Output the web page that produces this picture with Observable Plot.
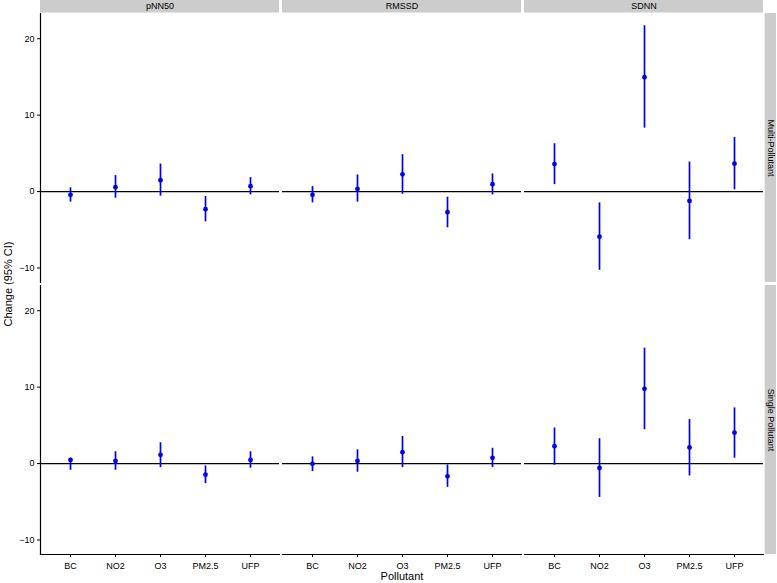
<!DOCTYPE html>
<html>
<head>
<meta charset="utf-8">
<script src="https://cdn.jsdelivr.net/npm/d3@7"></script>
<script src="https://cdn.jsdelivr.net/npm/@observablehq/plot@0.6"></script>
<style>
  body { margin: 0; background: #fff; }
  #chart svg g[aria-label="y-axis label"] text,
  #chart svg g[aria-label="x-axis label"] text { font-size: 11px; }
</style>
</head>
<body>
<div id="chart"></div>
<script>
const metrics = ['pNN50', 'RMSSD', 'SDNN']
const models = ['Multi-Pollutant', 'Single Pollutant']
const pollutants = ['BC', 'NO2', 'O3', 'PM2.5', 'UFP']
const yTicks = [-10, 0, 10, 20]

// [estimate, lower, upper] per pollutant, in the order of `pollutants`
const multiPNN50 = [[-0.43, -1.39, 0.48], [0.57, -0.87, 2.09], [1.48, -0.6, 3.6], [-2.3, -3.96, -0.65], [0.7, -0.43, 1.83]]
const multiRMSSD = [[-0.43, -1.48, 0.65], [0.35, -1.39, 2.17], [2.26, -0.35, 4.83], [-2.7, -4.74, -0.74], [0.96, -0.43, 2.3]]
const multiSDNN = [[3.6, 0.91, 6.26], [-5.9, -10.3, -1.48], [14.96, 8.3, 21.7], [-1.22, -6.3, 3.87], [3.65, 0.22, 7.09]]
const singlePNN50 = [[0.48, -0.88, 0.7], [0.35, -0.88, 1.54], [1.14, -0.53, 2.72], [-1.45, -2.63, -0.31], [0.48, -0.61, 1.54]]
const singleRMSSD = [[-0.04, -1.05, 0.88], [0.35, -1.14, 1.8], [1.49, -0.53, 3.55], [-1.67, -3.11, -0.18], [0.75, -0.53, 2.0]]
const singleSDNN = [[2.28, -0.22, 4.65], [-0.57, -4.43, 3.25], [9.78, 4.43, 15.1], [2.1, -1.62, 5.75], [4.04, 0.7, 7.28]]

const panels = [
  [models[0], metrics[0], multiPNN50], [models[0], metrics[1], multiRMSSD], [models[0], metrics[2], multiSDNN],
  [models[1], metrics[0], singlePNN50], [models[1], metrics[1], singleRMSSD], [models[1], metrics[2], singleSDNN],
]
const rows = panels.flatMap(([model, metric, vals]) =>
  vals.map(([est, lo, hi], i) => ({model, metric, pollutant: pollutants[i], est, lo, hi})))

const topStrips = metrics.map(metric => ({metric, model: models[0]}))
const rightStrips = models.map(model => ({metric: metrics[2], model}))

// layout
const W = 777, H = 583
const mL = 39, mR = 13, mT = 13, mB = 28
const strip = 13, gap = 3
const panelW = (W - mL - mR - 2 * gap) / 3
const panelH = (H - mT - mB - gap) / 2
const blue = '#0000ee'

let chart = Plot.plot({
  width: W,
  height: H,
  marginLeft: mL, marginRight: mR, marginTop: mT, marginBottom: mB,
  style: {fontFamily: '"Liberation Sans", Arial, sans-serif', fontSize: '9px', color: '#000', background: '#fff'},
  fx: {domain: metrics, axis: null, paddingInner: gap / (panelW + gap), paddingOuter: 0},
  fy: {domain: models, axis: null, paddingInner: gap / (panelH + gap), paddingOuter: 0},
  x: {type: 'point', domain: pollutants, padding: 0.6},
  y: {domain: [-11.9, 23.3]},
  marks: [
    // strips
    Plot.rect(topStrips, {fx: 'metric', fy: 'model', fill: '#cccccc', insetTop: -strip, insetBottom: panelH}),
    Plot.text(topStrips, {fx: 'metric', fy: 'model', text: 'metric', frameAnchor: 'top', dy: -strip / 2 - 0.5, lineAnchor: 'middle', textAnchor: 'middle', fontSize: 9}),
    Plot.rect(rightStrips, {fx: 'metric', fy: 'model', fill: '#cccccc', insetLeft: panelW + 1, insetRight: -strip}),
    Plot.text(rightStrips, {fx: 'metric', fy: 'model', text: 'model', frameAnchor: 'right', dx: strip / 2 + 0.5, rotate: 90, lineAnchor: 'middle', textAnchor: 'middle', fontSize: 9}),

    Plot.ruleY([0], {stroke: '#000', strokeWidth: 1.3}),
    Plot.ruleX(rows, {fx: 'metric', fy: 'model', x: 'pollutant', y1: 'lo', y2: 'hi', stroke: blue, strokeWidth: 1.7}),
    Plot.dot(rows, {fx: 'metric', fy: 'model', x: 'pollutant', y: 'est', r: 2.4, fill: blue}),

    Plot.axisX({anchor: 'bottom', tickSize: 3, tickPadding: 5, label: 'Pollutant', labelAnchor: 'center', labelArrow: 'none'}),
    Plot.axisY({anchor: 'left', ticks: yTicks, tickSize: 3, tickPadding: 3, label: 'Change (95% CI)', labelAnchor: 'center', labelOffset: 36, labelArrow: 'none'}),
    Plot.frame({anchor: 'left', facetAnchor: 'left', strokeWidth: 1.2}),
    Plot.frame({anchor: 'bottom', facetAnchor: 'bottom', strokeWidth: 1.2}),
  ],
})

d3.select('#chart').append(() => chart)
</script>
</body>
</html>
